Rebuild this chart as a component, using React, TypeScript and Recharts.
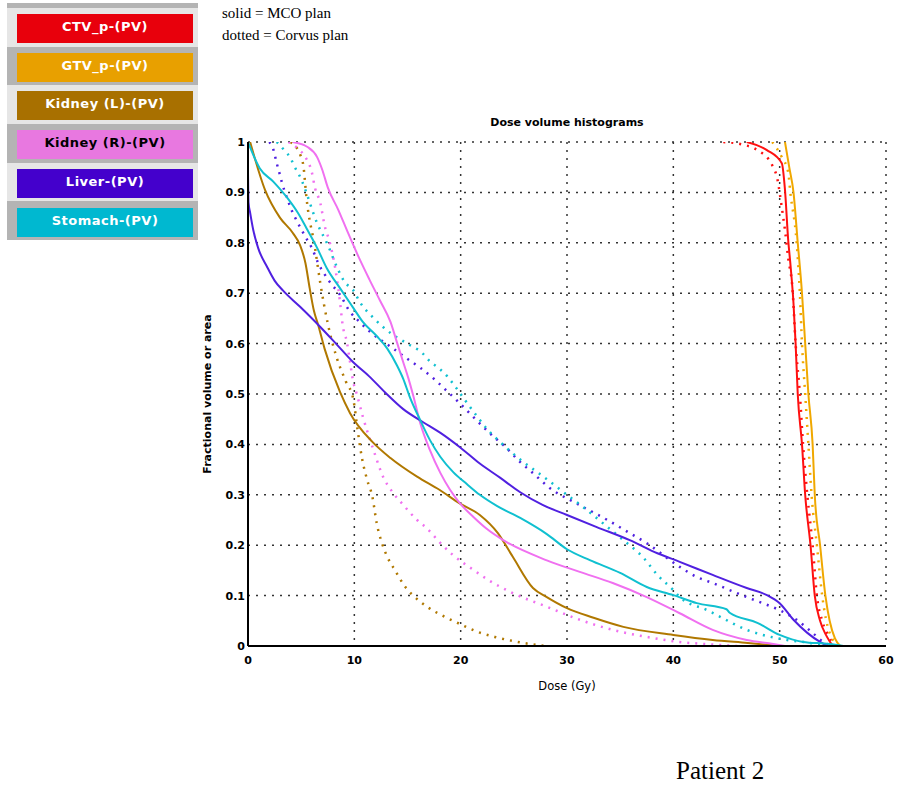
import { CartesianGrid, Line, LineChart, XAxis, YAxis, Label } from "recharts"

// dose (Gy) / fractional volume pairs
const ctvMco = [[46.9, 1], [48.8, 0.984], [50.2, 0.958], [50.5, 0.905], [50.8, 0.806], [51.0, 0.76], [51.3, 0.68], [51.5, 0.6], [51.7, 0.5], [52.1, 0.4], [52.4, 0.3], [52.9, 0.2], [53.3, 0.1], [53.8, 0.05], [54.4, 0.02], [55.0, 0]]
const ctvCorvus = [[44.7, 1], [46.5, 0.995], [47.9, 0.984], [49.3, 0.954], [49.8, 0.925], [50.2, 0.87], [50.5, 0.825], [50.8, 0.77], [51.2, 0.71], [51.5, 0.6], [51.9, 0.5], [52.2, 0.4], [52.6, 0.3], [53.1, 0.2], [53.5, 0.1], [54.0, 0.05], [54.6, 0.02], [55.2, 0]]
const gtvMco = [[50.5, 1], [50.9, 0.95], [51.3, 0.9], [51.7, 0.8], [52.1, 0.7], [52.4, 0.6], [52.7, 0.5], [53.1, 0.4], [53.3, 0.3], [53.8, 0.2], [54.3, 0.1], [54.7, 0.05], [55.2, 0.015], [55.7, 0]]
const gtvCorvus = [[49.3, 1], [50.2, 0.97], [50.8, 0.94], [51.0, 0.9], [51.6, 0.8], [51.9, 0.7], [52.1, 0.6], [52.4, 0.5], [52.7, 0.4], [53.0, 0.3], [53.5, 0.2], [54.0, 0.1], [54.5, 0.04], [55.5, 0]]
const kidneyLMco = [[0.2, 1], [1.6, 0.905], [3.0, 0.85], [4.2, 0.82], [4.9, 0.795], [5.4, 0.76], [5.8, 0.71], [6.2, 0.665], [6.6, 0.637], [7.2, 0.59], [8.65, 0.504], [9.6, 0.462], [11.7, 0.405], [13.4, 0.373], [15.9, 0.336], [18.0, 0.31], [19.9, 0.283], [21.8, 0.26], [23.5, 0.224], [24.9, 0.177], [26.8, 0.115], [28.1, 0.097], [30.0, 0.075], [32.5, 0.056], [35.3, 0.038], [40, 0.022], [43.7, 0.012], [47, 0.006], [50, 0]]
const kidneyLCorvus = [[4.0, 1], [5.0, 0.97], [5.2, 0.954], [5.5, 0.889], [6.3, 0.79], [6.8, 0.72], [7.5, 0.64], [8.3, 0.575], [9.2, 0.525], [9.9, 0.49], [10.3, 0.43], [10.7, 0.375], [11.2, 0.33], [11.7, 0.296], [12.1, 0.244], [12.6, 0.204], [13.1, 0.177], [13.8, 0.151], [14.8, 0.117], [15.7, 0.097], [16.9, 0.077], [18.5, 0.058], [20.1, 0.042], [21.6, 0.028], [23.2, 0.018], [24.9, 0.01], [26.5, 0.004], [28, 0]]
const kidneyRMco = [[4.2, 1], [5.6, 0.99], [6.5, 0.97], [7.0, 0.944], [7.5, 0.91], [8.5, 0.865], [9.4, 0.82], [10.4, 0.772], [11.4, 0.728], [12.4, 0.686], [13.4, 0.643], [14.0, 0.603], [14.6, 0.563], [15.1, 0.53], [15.5, 0.5], [16.2, 0.442], [17.1, 0.389], [18.1, 0.343], [19.0, 0.31], [19.9, 0.284], [21.2, 0.256], [22.6, 0.23], [24.0, 0.21], [28.1, 0.17], [31.2, 0.147], [34.3, 0.125], [37.5, 0.097], [40.6, 0.065], [43.7, 0.032], [46.9, 0.012], [49.4, 0.004], [50.5, 0]]
const kidneyRCorvus = [[3.8, 1], [4.8, 0.985], [5.4, 0.97], [6.0, 0.94], [6.3, 0.909], [6.8, 0.879], [7.2, 0.835], [7.7, 0.8], [8.2, 0.75], [8.65, 0.683], [8.9, 0.637], [9.3, 0.603], [9.6, 0.563], [9.9, 0.524], [10.2, 0.502], [10.8, 0.455], [11.8, 0.389], [12.7, 0.336], [13.6, 0.305], [14.6, 0.28], [15.9, 0.25], [16.8, 0.234], [18.1, 0.204], [19.3, 0.18], [21.2, 0.151], [22.6, 0.131], [24.9, 0.105], [28.1, 0.078], [31.2, 0.052], [34.3, 0.032], [37.5, 0.018], [40.6, 0.008], [43.7, 0.003], [46, 0]]
const liverMco = [[0, 0.94], [0.05, 0.88], [0.2, 0.86], [0.5, 0.825], [0.95, 0.79], [1.8, 0.752], [2.5, 0.725], [3.3, 0.705], [4.9, 0.673], [6.8, 0.633], [8.4, 0.597], [9.9, 0.563], [11.4, 0.535], [12.9, 0.503], [14.6, 0.47], [16.4, 0.445], [18.1, 0.423], [19.9, 0.395], [21.8, 0.362], [23.7, 0.334], [25.6, 0.305], [27.7, 0.28], [30.0, 0.26], [32.8, 0.236], [35.9, 0.21], [38.5, 0.184], [40.6, 0.167], [43.7, 0.141], [46.9, 0.115], [48.8, 0.101], [50.0, 0.085], [51.3, 0.052], [52.6, 0.026], [53.8, 0.008], [54.5, 0]]
const liverCorvus = [[2.0, 1], [2.4, 0.984], [2.7, 0.958], [3.0, 0.935], [3.2, 0.919], [3.7, 0.887], [4.1, 0.865], [4.7, 0.839], [5.4, 0.812], [6.0, 0.79], [6.6, 0.76], [7.7, 0.722], [8.65, 0.697], [9.6, 0.663], [10.5, 0.643], [11.5, 0.623], [13.6, 0.591], [14.9, 0.571], [16.2, 0.552], [17.6, 0.528], [18.4, 0.512], [19.8, 0.484], [21.3, 0.452], [22.9, 0.419], [24.2, 0.395], [25.6, 0.365], [26.8, 0.343], [28.4, 0.313], [30.8, 0.284], [33.8, 0.25], [35.9, 0.224], [37.5, 0.204], [40.6, 0.157], [42.2, 0.137], [43.7, 0.125], [45.3, 0.111], [46.9, 0.097], [48.4, 0.085], [50.0, 0.071], [51.6, 0.052], [53.1, 0.026], [54.1, 0.008], [55, 0]]
const stomachMco = [[0, 1], [1.1, 0.948], [2.4, 0.921], [3.7, 0.889], [4.7, 0.859], [5.5, 0.829], [6.5, 0.79], [7.4, 0.75], [8.65, 0.71], [9.9, 0.671], [10.8, 0.643], [12.1, 0.615], [13.1, 0.59], [14.0, 0.557], [14.6, 0.53], [15.2, 0.495], [16.2, 0.448], [17.1, 0.409], [18.1, 0.375], [19.3, 0.345], [20.6, 0.321], [21.8, 0.3], [23.4, 0.278], [25.6, 0.254], [28.1, 0.222], [30.0, 0.192], [32.2, 0.17], [35.0, 0.145], [37.5, 0.117], [40.0, 0.101], [42.2, 0.085], [45.0, 0.073], [45.3, 0.066], [47.9, 0.046], [50.0, 0.022], [52.2, 0.008], [54.7, 0.004], [56, 0]]
const stomachCorvus = [[2.7, 1], [3.4, 0.984], [4.0, 0.968], [4.4, 0.95], [4.8, 0.935], [5.1, 0.921], [6.5, 0.839], [7.5, 0.796], [8.4, 0.75], [9.1, 0.722], [9.9, 0.706], [10.5, 0.683], [11.8, 0.651], [13.4, 0.621], [14.9, 0.601], [16.4, 0.581], [17.1, 0.565], [17.9, 0.552], [18.7, 0.536], [19.3, 0.52], [20.4, 0.488], [21.6, 0.454], [22.5, 0.43], [23.7, 0.405], [25.9, 0.365], [27.6, 0.339], [30.0, 0.3], [31.5, 0.276], [33.3, 0.245], [35.3, 0.21], [37.2, 0.175], [38.5, 0.141], [40.0, 0.111], [40.6, 0.097], [43.2, 0.071], [44.4, 0.058], [46.9, 0.032], [48.4, 0.022], [50.7, 0.012], [53.1, 0.005], [54, 0]]

const xTicks = [0, 10, 20, 30, 40, 50, 60]
const yTicks = [0, 0.1, 0.2, 0.3, 0.4, 0.5, 0.6, 0.7, 0.8, 0.9, 1]

const legendNames = ["CTV_p-(PV)", "GTV_p-(PV)", "Kidney (L)-(PV)", "Kidney (R)-(PV)", "Liver-(PV)", "Stomach-(PV)"]
const legendColors = ["#e8000c", "#e8a000", "#a87000", "#e878e0", "#4400cc", "#00b8d0"]
const legendText = ["#fff", "#fff", "#fff", "#000", "#fff", "#fff"]

const lineColors = ["#ff1010", "#f0a800", "#b07800", "#f070f0", "#5020e0", "#10c0d0"]
const mcoSeries = [ctvMco, gtvMco, kidneyLMco, kidneyRMco, liverMco, stomachMco]
const corvusSeries = [ctvCorvus, gtvCorvus, kidneyLCorvus, kidneyRCorvus, liverCorvus, stomachCorvus]

const toPts = (arr: number[][]) => arr.map(([d, v]) => ({ d, v }))

const tickFont = { fontFamily: "DejaVu Sans", fontSize: 11, fontWeight: "bold", fill: "#000" }

export default function App() {
  return (
    <div style={{ position: "absolute", left: 0, top: 0, width: 900, height: 788, background: "#fff" }}>
      {/* legend panel */}
      <div style={{ position: "absolute", left: 7, top: 3, width: 191, height: 237, background: "#b4b4b4" }}>
        {legendNames.map((name, i) => (
          <div
            key={name}
            style={{
              position: "absolute",
              left: 0,
              top: 5 + i * 38.7,
              width: 191,
              height: 38.7,
              background: i % 2 === 0 ? "#e6e6e6" : "#b4b4b4",
            }}
          >
            <div
              style={{
                position: "absolute",
                left: 10,
                top: 6,
                width: 176,
                height: 29,
                background: legendColors[i],
                color: legendText[i],
                fontFamily: "DejaVu Sans",
                fontWeight: "bold",
                fontSize: 13,
                lineHeight: "26px",
                textAlign: "center",
                letterSpacing: 0.5,
              }}
            >
              {name}
            </div>
          </div>
        ))}
      </div>

      <div style={{ position: "absolute", left: 222, top: 2, fontFamily: "Liberation Serif", fontSize: 15, lineHeight: "22px" }}>
        <div>solid = MCO plan</div>
        <div>dotted = Corvus plan</div>
      </div>

      <div
        style={{
          position: "absolute",
          left: 467,
          top: 116,
          width: 200,
          textAlign: "center",
          fontFamily: "DejaVu Sans",
          fontSize: 11,
          fontWeight: "bold",
        }}
      >
        Dose volume histograms
      </div>

      <div style={{ position: "absolute", left: 676, top: 757, fontFamily: "Liberation Serif", fontSize: 25, whiteSpace: "nowrap" }}>
        Patient 2
      </div>

      <div style={{ position: "absolute", left: 0, top: 0 }}>
        <LineChart width={900} height={788} margin={{ top: 142, right: 14, bottom: 122, left: 218 }}>
          <CartesianGrid stroke="#333" strokeWidth={1.5} strokeDasharray="2 6" horizontalValues={yTicks} verticalValues={xTicks} />
          <XAxis
            dataKey="d"
            type="number"
            domain={[0, 60]}
            ticks={xTicks}
            height={20}
            tickLine={false}
            tickSize={8}
            tickMargin={2}
            tick={tickFont}
            axisLine={{ stroke: "#000", strokeWidth: 2 }}
            allowDataOverflow
          >
            <Label value="Dose (Gy)" position="insideBottom" offset={-24} style={{ fontFamily: "DejaVu Sans", fontSize: 11.5, fill: "#000" }} />
          </XAxis>
          <YAxis
            dataKey="v"
            type="number"
            domain={[0, 1]}
            ticks={yTicks}
            width={30}
            tickLine={false}
            tickSize={3}
            tickMargin={0}
            tick={tickFont}
            axisLine={{ stroke: "#000", strokeWidth: 2 }}
            allowDataOverflow
          >
            <Label
              value="Fractional volume or area"
              angle={-90}
              position="insideLeft"
              offset={-11}
              style={{ textAnchor: "middle", fontFamily: "DejaVu Sans", fontSize: 11, fontWeight: "bold", fill: "#000" }}
            />
          </YAxis>
          {corvusSeries.map((s, i) => (
            <Line
              key={"c" + i}
              data={toPts(s)}
              dataKey="v"
              type="monotone"
              stroke={lineColors[i]}
              strokeWidth={2.5}
              strokeDasharray="2 6"
              dot={false}
              activeDot={false}
              isAnimationActive={false}
            />
          ))}
          {mcoSeries.map((s, i) => (
            <Line
              key={"m" + i}
              data={toPts(s)}
              dataKey="v"
              type="monotone"
              stroke={lineColors[i]}
              strokeWidth={2}
              dot={false}
              activeDot={false}
              isAnimationActive={false}
            />
          ))}
        </LineChart>
      </div>
    </div>
  )
}
